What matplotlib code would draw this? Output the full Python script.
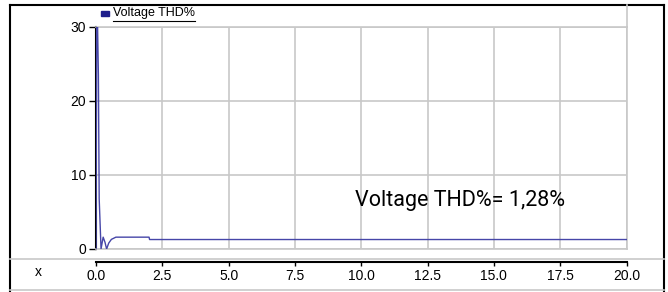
import matplotlib
matplotlib.use("Agg")
import matplotlib.pyplot as plt
from matplotlib.lines import Line2D
from matplotlib.patches import Rectangle

# data
t = [0, 0.04, 0.06, 0.09, 0.12, 0.19, 0.27, 0.34, 0.40, 0.48, 0.58, 0.75, 2.0, 2.02, 20]
thd = [0, 45, 30, 23.5, 6.8, 0.0, 1.6, 0.9, 0.0, 0.8, 1.3, 1.6, 1.6, 1.28, 1.28]
x_ticks = [0.0, 2.5, 5.0, 7.5, 10.0, 12.5, 15.0, 17.5, 20.0]
y_ticks = [0, 10, 20, 30]
series_name = "Voltage THD%"
annotation = "Voltage THD%= 1,28%"

W, H = 668, 292
fig = plt.figure(figsize=(W / 100, H / 100), dpi=100)
fig.patch.set_facecolor("white")

def fx(px):
    return px / W

def fy(py):
    return 1 - py / H

# outer frame lines
fig.add_artist(Line2D([fx(10), fx(10)], [fy(5), fy(291)], color="black", lw=1.5))
fig.add_artist(Line2D([fx(664), fx(664)], [fy(5), fy(291)], color="black", lw=1.5))
fig.add_artist(Line2D([fx(10), fx(664)], [fy(5), fy(5)], color="black", lw=1.5))
fig.add_artist(Line2D([fx(10), fx(664)], [fy(259), fy(259)], color="#c8c8c8", lw=1.2))
fig.add_artist(Line2D([fx(10), fx(664)], [fy(290), fy(290)], color="#c8c8c8", lw=1.2))
fig.add_artist(Line2D([fx(626.5), fx(626.5)], [fy(5), fy(27)], color="#c8c8c8", lw=1.2))

# main axes
ax = fig.add_axes([fx(96), fy(249), fx(626.5) - fx(96), fy(27) - fy(249)])
ax.plot(t, thd, color="#4646a8", lw=1.0, zorder=3)
ax.set_xlim(0, 20)
ax.set_ylim(0, 30)
ax.set_xticks(x_ticks)
ax.set_yticks(y_ticks)
ax.grid(True, color="#c8c8c8", lw=1.2)
ax.set_axisbelow(True)
for s in ["top", "right", "bottom"]:
    ax.spines[s].set_color("#c8c8c8")
    ax.spines[s].set_linewidth(1.2)
ax.spines["left"].set_color("black")
ax.spines["left"].set_linewidth(1.5)
ax.tick_params(axis="x", length=0, labelbottom=False)
ax.tick_params(axis="y", length=5, width=1, direction="out", labelsize=10, pad=2)
for lbl in ax.get_yticklabels():
    lbl.set_fontfamily("Liberation Sans")

ax.text(13.73, 6.6, annotation, fontsize=15.5, va="center", ha="center",
        family=["Roboto", "DejaVu Sans"], color="black")

# lower x axis
ax2 = fig.add_axes([fx(96), fy(275), fx(626.5) - fx(96), fy(262) - fy(275)])
ax2.set_xlim(0, 20)
ax2.set_ylim(0, 1)
ax2.set_xticks(x_ticks)
ax2.set_xticklabels([f"{v:.1f}" for v in x_ticks], family="Liberation Sans", fontsize=10)
ax2.set_yticks([])
ax2.patch.set_alpha(0)
for s in ["bottom", "left", "right"]:
    ax2.spines[s].set_visible(False)
ax2.spines["top"].set_color("black")
ax2.spines["top"].set_linewidth(1.5)
ax2.xaxis.set_ticks_position("top")
ax2.xaxis.set_label_position("bottom")
ax2.tick_params(axis="x", direction="in", length=3, width=1, labeltop=False, labelbottom=True, pad=-4.5)
fig.text(fx(38), fy(272), "x", fontsize=10, family="Liberation Sans", ha="center", va="center")

# legend
fig.add_artist(Rectangle((fx(101), fy(16)), fx(8), fy(11) - fy(16), color="#1e1e8c"))
fig.text(fx(113), fy(13), series_name, fontsize=9, family="Liberation Sans", ha="left", va="center")
fig.add_artist(Line2D([fx(113), fx(195)], [fy(21), fy(21)], color="black", lw=0.8))

fig.savefig("out.png", dpi=100)
